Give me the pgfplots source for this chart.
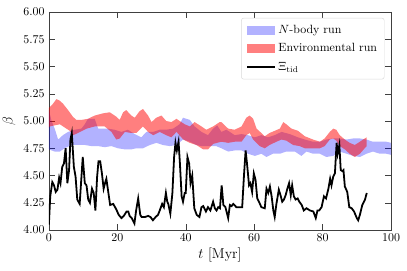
\documentclass[border=0pt]{standalone}
\usepackage{pgfplots}
\pgfplotsset{compat=1.18}
\usepgfplotslibrary{fillbetween}
\begin{document}
\begin{tikzpicture}
\begin{axis}[
  scale only axis,
  width=287pt, height=183pt,
  xmin=0, xmax=100, ymin=4, ymax=6,
  xtick={0,20,40,60,80,100},
  ytick={4,4.25,4.5,4.75,5,5.25,5.5,5.75,6},
  yticklabel style={/pgf/number format/.cd, fixed, fixed zerofill, precision=2},
  xticklabel style={/pgf/number format/.cd, fixed},
  tick align=inside, major tick length=5pt,
  axis line style={black!75}, tick style={black!75},
  xlabel={$t$ [Myr]}, ylabel={$\beta$},
  label style={font=\large},
  xlabel style={yshift=2pt},
  legend style={at={(1,1)}, anchor=north east, xshift=-5.5pt, yshift=-5pt,
    draw=black!15, rounded corners=2pt, fill=white, fill opacity=0.8, text opacity=1,
    inner xsep=4pt, inner ysep=4pt, row sep=3pt, font=\normalsize},
  legend cell align=left,
]
\addplot[draw=none, name path=bt, forget plot] table {
0 5.10
0.8 5.00
1.7 4.93
2.7 4.83
4.1 4.87
5.6 4.90
7.5 4.92
9.5 4.93
10.5 4.97
11.4 5.02
13.4 5.02
14.4 4.93
17.3 4.93
19.2 4.92
21.2 4.90
23.1 4.92
25.1 4.88
27.0 4.85
28.5 4.90
30.5 4.90
32.4 4.92
34.3 4.92
36.3 4.93
38.2 4.97
39.2 5.03
41.2 5.01
42.6 4.95
44.6 4.90
46.5 4.87
48.0 4.93
49.2 4.96
50.4 4.90
51.9 4.92
54.3 4.87
56.3 4.88
58.2 4.87
60.2 4.85
62.1 4.87
64.0 4.85
66.0 4.87
68.0 4.90
70.4 4.88
72.8 4.85
74.8 4.83
77.2 4.81
79.2 4.81
81.1 4.83
83.1 4.84
85.0 4.84
87.0 4.83
88.9 4.84
90.9 4.84
92.8 4.83
94.7 4.81
96.7 4.81
98.6 4.81
100 4.80
};
\addplot[draw=none, name path=bb, forget plot] table {
0 4.74
1.7 4.72
3.2 4.72
4.6 4.75
6.6 4.78
8.5 4.78
10.5 4.78
12.4 4.77
14.4 4.77
16.3 4.76
18.3 4.77
20.2 4.75
22.2 4.74
24.1 4.74
25.6 4.75
27.5 4.75
29.5 4.78
31.4 4.80
33.3 4.78
35.3 4.77
37.3 4.78
39.2 4.83
41.2 4.81
43.1 4.78
44.6 4.77
47.0 4.77
48.9 4.77
50.4 4.75
52.4 4.72
54.3 4.73
56.3 4.73
58.2 4.70
60.2 4.68
62.1 4.70
63.6 4.67
65.5 4.70
67.5 4.70
69.4 4.72
71.9 4.72
73.8 4.68
75.3 4.72
77.2 4.70
79.2 4.70
81.1 4.67
83.1 4.68
85.0 4.72
87.0 4.70
88.9 4.68
90.9 4.67
92.8 4.70
94.7 4.72
96.7 4.70
98.6 4.70
100 4.69
};
\addplot[fill=blue, fill opacity=0.3, draw=none, forget plot] fill between[of=bt and bb];
\addplot[draw=none, name path=rt, forget plot] table {
0 5.12
1 5.15
2.2 5.20
3 5.19
4.1 5.16
5.6 5.10
7 5.04
8 5.01
9.5 5.01
11.4 5.02
13.4 5.05
15.8 5.07
17.8 5.08
19.7 5.04
20.7 5.01
21.7 5.08
22.6 5.10
24.1 5.05
25.1 5.03
26.5 5.09
27.5 5.11
29.0 5.05
30.0 4.99
31.4 5.03
32.9 5.05
34.3 5.00
35.8 4.99
37.3 5.02
38.7 4.99
39.7 4.97
41.2 4.95
42.6 4.99
44.6 4.95
46.0 4.92
48.0 4.95
49.9 4.99
50.4 4.99
52.4 4.93
54.3 4.92
56.3 4.95
57.7 5.03
58.7 5.05
59.7 5.02
60.7 4.93
62.1 4.89
63.1 4.86
64.5 4.89
66.0 4.91
67.5 4.93
68.5 4.99
69.4 4.97
70.9 4.93
72.8 4.91
74.8 4.86
77.2 4.83
79.2 4.81
80.6 4.84
82.1 4.90
83.1 4.93
84.0 4.92
85.0 4.87
86.5 4.83
87.9 4.80
89.4 4.78
90.9 4.81
92.3 4.84
92.9 4.85
};
\addplot[draw=none, name path=rb, forget plot] table {
0 4.94
0.2 4.95
3.2 4.97
6.1 4.91
7.1 4.87
8.5 4.89
11.0 4.93
13.4 4.95
16.3 4.95
18.3 4.90
19.7 4.83
20.7 4.84
22.2 4.90
24.1 4.89
25.6 4.89
27.5 4.95
29.0 4.90
30.5 4.87
32.4 4.90
34.3 4.87
35.8 4.85
37.3 4.90
39.3 4.83
41.2 4.80
43.1 4.78
45.1 4.74
46.5 4.74
48.0 4.79
50.4 4.81
52.4 4.80
54.3 4.81
56.3 4.81
57.7 4.87
58.7 4.89
59.7 4.83
61.6 4.77
63.1 4.75
64.5 4.78
66.5 4.81
68.0 4.83
69.4 4.82
71.4 4.78
73.3 4.77
74.8 4.75
77.2 4.75
79.2 4.75
80.6 4.77
82.1 4.83
83.1 4.84
84.0 4.82
85.0 4.77
86.5 4.74
87.9 4.70
89.4 4.67
90.9 4.70
92.3 4.75
92.9 4.77
};
\addplot[fill=red, fill opacity=0.5, draw=none, forget plot] fill between[of=rt and rb];
\addplot[black, line width=1.5pt, forget plot] table {
0 4.05
0.4 4.31
1.0 4.44
1.5 4.41
2.0 4.35
2.5 4.37
3.0 4.48
3.4 4.43
3.9 4.58
4.4 4.61
4.9 4.75
5.4 4.43
5.9 4.55
6.3 4.83
6.7 4.89
7.3 4.58
7.8 4.49
8.3 4.28
9.0 4.24
9.9 4.67
10.5 4.43
11.0 4.41
11.5 4.28
12.0 4.25
12.6 4.38
13.1 4.34
13.6 4.18
14.1 4.49
14.5 4.63
15.0 4.63
15.5 4.52
16.0 4.38
16.4 4.43
16.8 4.47
17.4 4.34
17.9 4.23
18.8 4.24
19.7 4.19
20.4 4.14
21.2 4.11
21.9 4.13
22.7 4.17
23.2 4.17
23.6 4.13
24.2 4.11
25.0 4.06
25.5 4.18
26.1 4.29
26.7 4.14
27.1 4.12
28.1 4.12
29.0 4.13
29.7 4.12
30.4 4.09
31.2 4.12
31.9 4.14
32.4 4.18
33.1 4.24
33.6 4.21
34.2 4.34
34.6 4.26
34.9 4.24
35.5 4.15
36.1 4.34
36.6 4.67
37.0 4.80
37.4 4.73
37.9 4.81
38.3 4.61
38.8 4.31
39.2 4.26
39.7 4.34
40.0 4.34
40.5 4.67
41.0 4.61
41.4 4.43
41.9 4.50
42.2 4.35
42.5 4.20
43.2 4.14
44.0 4.12
44.6 4.21
45.1 4.22
45.9 4.17
46.5 4.21
47.2 4.18
48.0 4.26
48.5 4.20
49.0 4.18
49.5 4.21
50.0 4.20
50.5 4.41
51.0 4.23
51.6 4.21
52.4 4.11
52.9 4.23
53.4 4.22
53.9 4.24
54.8 4.21
55.8 4.21
56.5 4.21
57.0 4.49
57.5 4.73
58.0 4.58
58.5 4.41
58.9 4.43
59.4 4.35
59.9 4.52
60.4 4.46
60.9 4.29
61.4 4.26
62.1 4.21
63.1 4.20
63.6 4.38
64.1 4.34
64.6 4.40
65.1 4.31
65.6 4.18
66.0 4.12
66.5 4.24
67.2 4.37
67.7 4.32
68.2 4.26
68.7 4.28
69.2 4.32
69.7 4.38
70.2 4.43
70.7 4.32
71.1 4.41
71.6 4.31
72.1 4.28
72.7 4.29
73.2 4.26
73.9 4.23
74.5 4.18
75.3 4.20
76.3 4.18
77.3 4.17
78.0 4.11
78.5 4.18
79.0 4.18
79.7 4.21
80.4 4.31
81.0 4.29
81.7 4.38
82.2 4.47
82.6 4.41
83.1 4.49
83.6 4.52
84.1 4.80
84.4 4.70
84.9 4.78
85.3 4.55
85.8 4.54
86.1 4.55
86.5 4.40
87.2 4.35
87.8 4.21
88.5 4.20
89.2 4.17
90.0 4.11
90.4 4.09
90.9 4.14
91.6 4.23
92.4 4.28
92.9 4.34
};
\addlegendimage{legend image code/.code={\fill[blue, fill opacity=0.3, draw=none, sharp corners] (0cm,-0.13cm) rectangle (0.83cm,0.13cm);}}
\addlegendentry{$N$-body run}
\addlegendimage{legend image code/.code={\fill[red, fill opacity=0.5, draw=none, sharp corners] (0cm,-0.13cm) rectangle (0.83cm,0.13cm);}}
\addlegendentry{Environmental run}
\addlegendimage{legend image code/.code={\draw[black, line width=1.5pt, sharp corners] (0cm,0cm) -- (0.83cm,0cm);}}
\addlegendentry{$\Xi_{\mathrm{tid}}$}
\end{axis}
\pgfresetboundingbox
\path[use as bounding box] ([xshift=-41pt,yshift=-33.6pt]current axis.south west) rectangle ([xshift=13.4pt,yshift=10pt]current axis.north east);
\end{tikzpicture}
\end{document}
